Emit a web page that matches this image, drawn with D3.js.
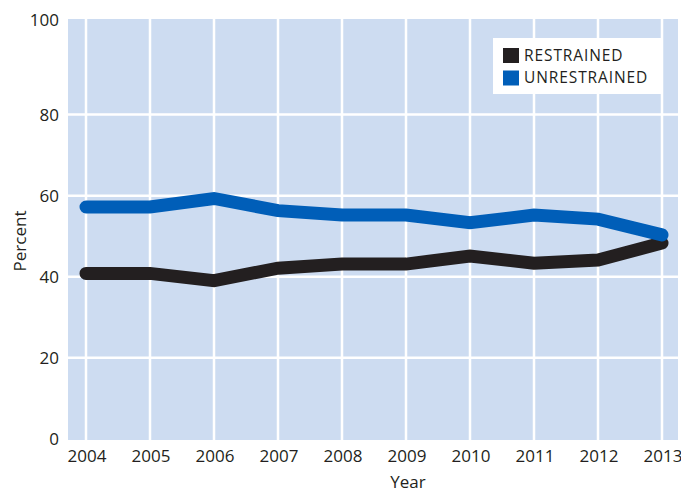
<!DOCTYPE html>
<html>
<head>
<meta charset="utf-8">
<script src="https://cdn.jsdelivr.net/npm/d3@7"></script>
<style>
  body { margin: 0; background: #fff; }
  svg { display: block; font-family: 'Open Sans', sans-serif; }
  .tick-label { fill: #231f20; font-size: 17px; }
  .axis-title { fill: #231f20; font-size: 17px; }
  .legend-label { fill: #231f20; font-size: 15.5px; letter-spacing: 0.9px; }
</style>
</head>
<body>
<div id="chart"></div>
<script>
// data
const years = [2004, 2005, 2006, 2007, 2008, 2009, 2010, 2011, 2012, 2013];
const restrained = [40.8, 40.8, 39.0, 42.1, 43.1, 43.1, 45.1, 43.3, 44.1, 48.3];
const unrestrained = [57.2, 57.2, 59.3, 56.3, 55.2, 55.2, 53.3, 55.2, 54.2, 50.3];
const yTicks = [0, 20, 40, 60, 80];
const yTopLabel = '100';
const seriesNames = ['RESTRAINED', 'UNRESTRAINED'];
const seriesColors = ['#231f20', '#005eb8'];

const width = 681;
const height = 494;
// plot panel edges
const plot = { left: 68, right: 678, top: 19, bottom: 440 };

const x = d3.scaleLinear()
  .domain(d3.extent(years))
  .range([86, 662]);

const y = d3.scaleLinear()
  .domain([0, 103.6])
  .range([438.7, plot.top]);

const svg = d3.select('#chart').append('svg')
    .attr('width', width)
    .attr('height', height);

// panel background
svg.append('rect')
    .attr('x', plot.left)
    .attr('y', plot.top)
    .attr('width', plot.right - plot.left)
    .attr('height', plot.bottom - plot.top)
    .attr('fill', '#cddcf1');

// grid
const grid = svg.append('g')
    .attr('stroke', '#fff')
    .attr('stroke-width', 2.5);

grid.selectAll('.vgrid')
  .data(years)
  .enter().append('line')
    .attr('class', 'vgrid')
    .attr('x1', d => x(d))
    .attr('x2', d => x(d))
    .attr('y1', plot.top)
    .attr('y2', plot.bottom);

grid.selectAll('.hgrid')
  .data(yTicks.filter(d => d > 0))
  .enter().append('line')
    .attr('class', 'hgrid')
    .attr('x1', plot.left)
    .attr('x2', plot.right)
    .attr('y1', d => y(d))
    .attr('y2', d => y(d));

// axis labels
svg.selectAll('.ylab')
  .data(yTicks)
  .enter().append('text')
    .attr('class', 'tick-label ylab')
    .attr('x', 59)
    .attr('y', d => y(d))
    .attr('dy', '0.35em')
    .attr('text-anchor', 'end')
    .text(d => d);

svg.append('text')
    .attr('class', 'tick-label')
    .attr('x', 59)
    .attr('y', y(y.domain()[1]) + 1)
    .attr('dy', '0.35em')
    .attr('text-anchor', 'end')
    .text(yTopLabel);

svg.selectAll('.xlab')
  .data(years)
  .enter().append('text')
    .attr('class', 'tick-label xlab')
    .attr('x', d => x(d) + 1)
    .attr('y', 462)
    .attr('text-anchor', 'middle')
    .text(d => d);

svg.append('text')
    .attr('class', 'axis-title')
    .attr('text-anchor', 'middle')
    .attr('transform', 'translate(26, 241) rotate(-90)')
    .text('Percent');

svg.append('text')
    .attr('class', 'axis-title')
    .attr('text-anchor', 'middle')
    .attr('x', 408)
    .attr('y', 488)
    .text('Year');

// lines
const line = d3.line()
  .x((d, i) => x(years[i]))
  .y(d => y(d));

svg.selectAll('.series')
  .data([restrained, unrestrained])
  .enter().append('path')
    .attr('class', 'series')
    .attr('d', line)
    .attr('fill', 'none')
    .attr('stroke', (d, i) => seriesColors[i])
    .attr('stroke-width', 13)
    .attr('stroke-linecap', 'round');

// legend
const legend = svg.append('g')
    .attr('transform', 'translate(493, 38)');

legend.append('rect')
    .attr('width', 168)
    .attr('height', 56)
    .attr('fill', '#fff');

const item = legend.selectAll('.item')
  .data(seriesNames)
  .enter().append('g')
    .attr('class', 'item')
    .attr('transform', (d, i) => `translate(10, ${10 + i * 22.5})`);

item.append('rect')
    .attr('width', 16)
    .attr('height', 15)
    .attr('fill', (d, i) => seriesColors[i]);

item.append('text')
    .attr('class', 'legend-label')
    .attr('x', 21)
    .attr('y', 12.5)
    .text(d => d);
</script>
</body>
</html>
